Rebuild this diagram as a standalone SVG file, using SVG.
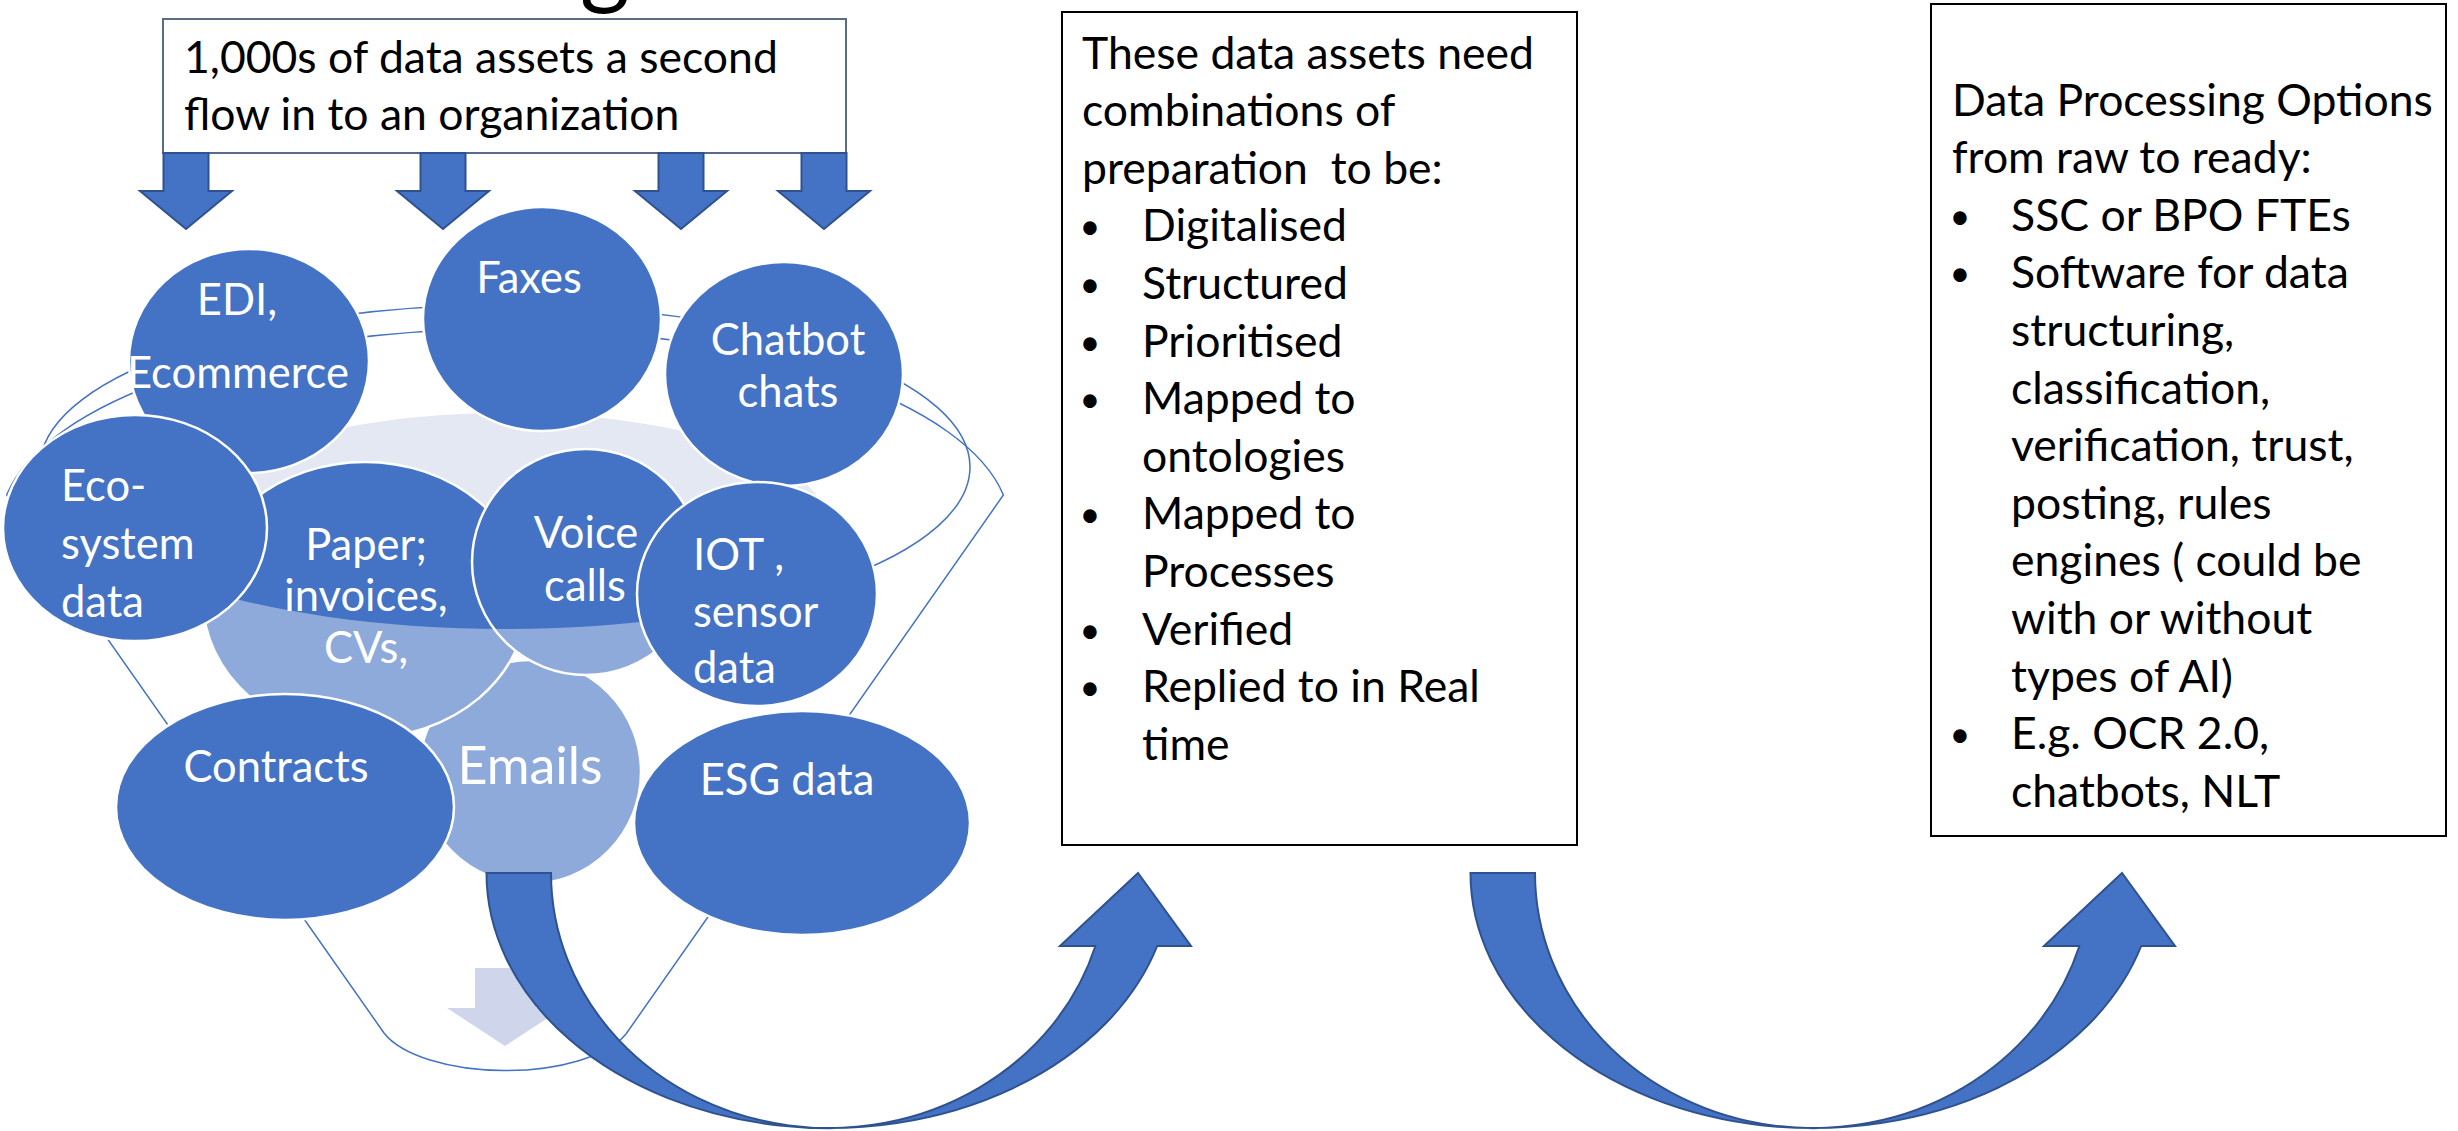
<svg xmlns="http://www.w3.org/2000/svg" width="2458" height="1131" viewBox="0 0 2458 1131">
  <style>
    .txt { font-family: Lato, "Liberation Sans", sans-serif; font-size: 44.5px; fill: #000; white-space: pre; }
    .dot { font-family: Lato, "Liberation Sans", sans-serif; font-size: 36px; fill: #000; text-anchor: middle; }
    .lbl { font-family: Lato, "Liberation Sans", sans-serif; font-size: 43.5px; fill: #fff; }
    .mid { text-anchor: middle; }
    .node { fill: #4472C4; stroke: #fff; stroke-width: 2.5; }
    .box { fill: #fff; stroke: #000; stroke-width: 2; }
    .flow { fill: #4472C4; stroke: #2F528F; stroke-width: 2; stroke-linejoin: miter; }
    .rim { fill: none; stroke: #4472C4; stroke-width: 1.5; }
  </style>
  <defs>
    <path id="down-arrow" d="M-22.5,0 H22.5 V38 H46 L0,76 L-46,38 H-22.5 Z"/>
    <path id="u-arrow" d="M486.5,873 A342.5,255 0 0 0 1157.2,946 L1191,946 L1138,873 L1060,946 L1095.4,946 A278,255 0 0 1 551,873 Z"/>
    <clipPath id="behind-rim">
      <ellipse cx="365" cy="600" rx="162" ry="138"/>
      <ellipse cx="586" cy="562" rx="114" ry="113"/>
      <ellipse cx="530" cy="772" rx="111" ry="112"/>
    </clipPath>
  </defs>

  <rect width="2458" height="1131" fill="#fff"/>

  <!-- tail of the heading above the page edge -->
  <text x="580" y="-4" style="font-family: Lato, 'Liberation Sans', sans-serif; font-size: 96px; fill:#000;">g</text>

  <!-- funnel: mouth, rims, sides and spout arrow -->
  <g id="funnel">
    <ellipse cx="505" cy="520" rx="320" ry="107" fill="#E3E8F3"/>
    <path class="rim" d="M6.6,495 A505,198 0 0 1 1003.4,495 L626,1034 A128,55 0 0 1 384,1033 Z"/>
    <ellipse class="rim" cx="505" cy="467" rx="465" ry="162"/>
    <path d="M475,968 H536 V1008 H563 L505,1046 L447,1008 H475 Z" fill="#CFD5EA"/>
  </g>

  <g id="node-emails">
    <ellipse class="node" cx="530" cy="772" rx="111" ry="112"/>
    <text class="lbl mid" x="530" y="784" style="font-size:52px">Emails</text>
  </g>
  <g id="node-paper">
    <ellipse class="node" cx="365" cy="600" rx="162" ry="138"/>
    <text class="lbl mid" x="366" y="560">Paper;</text>
    <text class="lbl mid" x="366" y="611">invoices,</text>
    <text class="lbl mid" x="366" y="663">CVs,</text>
  </g>
  <g id="node-voice">
    <ellipse class="node" cx="586" cy="562" rx="114" ry="113"/>
    <text class="lbl mid" x="586" y="548">Voice</text>
    <text class="lbl mid" x="585" y="601">calls</text>
  </g>

  <!-- front wall of the funnel, lightening what sits behind it -->
  <path id="funnel-front" clip-path="url(#behind-rim)" fill="#fff" fill-opacity="0.4"
        d="M40,467 A465,162 0 0 0 970,467 L1020,467 L1020,1100 L0,1100 L0,467 Z"/>

  <g id="node-edi">
    <ellipse class="node" cx="249" cy="361" rx="120" ry="112"/>
    <text class="lbl mid" x="237" y="315">EDI,</text>
    <text class="lbl mid" x="238" y="388">Ecommerce</text>
  </g>
  <g id="node-faxes">
    <ellipse class="node" cx="542" cy="319" rx="119" ry="112"/>
    <text class="lbl mid" x="529" y="293">Faxes</text>
  </g>
  <g id="node-chatbot">
    <ellipse class="node" cx="784" cy="374" rx="119" ry="112"/>
    <text class="lbl mid" x="788" y="355">Chatbot</text>
    <text class="lbl mid" x="788" y="407">chats</text>
  </g>
  <g id="node-ecosystem">
    <ellipse class="node" cx="135" cy="528" rx="132" ry="113"/>
    <text class="lbl" x="61" y="501">Eco-</text>
    <text class="lbl" x="61" y="559">system</text>
    <text class="lbl" x="61" y="617">data</text>
  </g>
  <g id="node-iot">
    <ellipse class="node" cx="757" cy="594" rx="120" ry="112"/>
    <text class="lbl" x="693" y="570">IOT ,</text>
    <text class="lbl" x="693" y="627">sensor</text>
    <text class="lbl" x="693" y="683">data</text>
  </g>
  <g id="node-contracts">
    <ellipse class="node" cx="285" cy="807" rx="169" ry="113"/>
    <text class="lbl mid" x="276" y="782">Contracts</text>
  </g>
  <g id="node-esg">
    <ellipse class="node" cx="802" cy="823" rx="168" ry="112"/>
    <text class="lbl mid" x="787" y="795">ESG data</text>
  </g>

  <g id="node-inflow">
    <rect x="163" y="19" width="683" height="134" fill="#fff" stroke="#5A6B88" stroke-width="2"/>
    <text class="txt" x="184" y="73">1,000s of data assets a second</text>
    <text class="txt" x="184" y="130">flow in to an organization</text>
  </g>

  <g id="node-preparation">
    <rect class="box" x="1062" y="12" width="515" height="833"/>
    <text class="txt" x="1082" y="68.5">These data assets need</text>
    <text class="txt" x="1082" y="126">combinations of</text>
    <text class="txt" x="1082" y="183.5">preparation  to be:</text>
    <g class="dot">
      <text x="1090" y="239">•</text>
      <text x="1090" y="297">•</text>
      <text x="1090" y="354.5">•</text>
      <text x="1090" y="412">•</text>
      <text x="1090" y="527">•</text>
      <text x="1090" y="642.5">•</text>
      <text x="1090" y="700">•</text>
    </g>
    <text class="txt" x="1142" y="241">Digitalised</text>
    <text class="txt" x="1142" y="299">Structured</text>
    <text class="txt" x="1142" y="356.5">Prioritised</text>
    <text class="txt" x="1142" y="414">Mapped to</text>
    <text class="txt" x="1142" y="471.5">ontologies</text>
    <text class="txt" x="1142" y="529">Mapped to</text>
    <text class="txt" x="1142" y="587">Processes</text>
    <text class="txt" x="1142" y="644.5">Verified</text>
    <text class="txt" x="1142" y="702">Replied to in Real</text>
    <text class="txt" x="1142" y="759.5">time</text>
  </g>

  <g id="node-processing">
    <rect class="box" x="1931" y="4" width="515" height="832"/>
    <text class="txt" x="1952" y="115.5">Data Processing Options</text>
    <text class="txt" x="1952" y="173">from raw to ready:</text>
    <g class="dot">
      <text x="1960" y="228.5">•</text>
      <text x="1960" y="286">•</text>
      <text x="1960" y="747">•</text>
    </g>
    <text class="txt" x="2011" y="230.5">SSC or BPO FTEs</text>
    <text class="txt" x="2011" y="288">Software for data</text>
    <text class="txt" x="2011" y="345.5">structuring,</text>
    <text class="txt" x="2011" y="403.5">classification,</text>
    <text class="txt" x="2011" y="461">verification, trust,</text>
    <text class="txt" x="2011" y="518.5">posting, rules</text>
    <text class="txt" x="2011" y="576">engines ( could be</text>
    <text class="txt" x="2011" y="634">with or without</text>
    <text class="txt" x="2011" y="691.5">types of AI)</text>
    <text class="txt" x="2011" y="749">E.g. OCR 2.0,</text>
    <text class="txt" x="2011" y="807">chatbots, NLT</text>
  </g>

  <g id="connectors">
    <use href="#down-arrow" class="flow" x="186" y="153"/>
    <use href="#down-arrow" class="flow" x="443" y="153"/>
    <use href="#down-arrow" class="flow" x="681" y="153"/>
    <use href="#down-arrow" class="flow" x="824" y="153"/>
    <use href="#u-arrow" class="flow"/>
    <use href="#u-arrow" class="flow" x="984"/>
  </g>
</svg>
